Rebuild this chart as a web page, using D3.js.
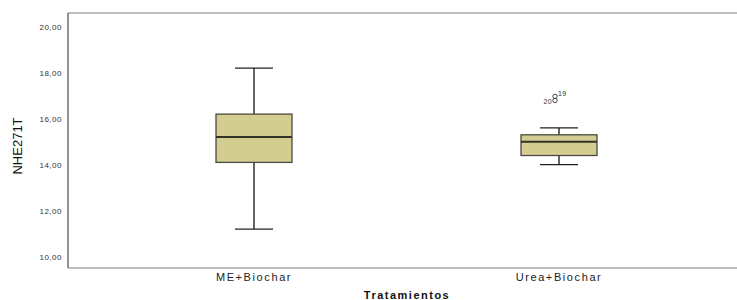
<!DOCTYPE html>
<html><head><meta charset="utf-8">
<script src="https://cdn.jsdelivr.net/npm/d3@7"></script>
<style>body{margin:0;background:#fff}svg{display:block}</style>
</head><body>
<script>
const categories = ["ME+Biochar", "Urea+Biochar"];
const whiskerLow = [11.2, 14.0];
const q1 = [14.1, 14.4];
const median = [15.2, 15.0];
const q3 = [16.2, 15.3];
const whiskerHigh = [18.2, 15.6];
const outlierCat = ["Urea+Biochar", "Urea+Biochar"];
const outlierVal = [16.97, 16.79];
const outlierLabel = ["19", "20"];
const yTicks = [10, 12, 14, 16, 18, 20];

(function () {
const W = 737, H = 300;
const svg = d3.select("body").append("svg").attr("width", W).attr("height", H);
const pL = 68, pT = 13, pB = 268, pR = 737;
const FONT = "Liberation Sans, Arial, sans-serif";

const y = d3.scaleLinear().domain([10, 20]).range([256.7, 26.7]);
const x = d3.scaleBand().domain(categories).range([101.5, 711.5]);

// frame
svg.append("line").attr("x1", pL).attr("x2", pR).attr("y1", pT).attr("y2", pT).attr("stroke", "#a8a8a8").attr("stroke-width", 1.5);
svg.append("line").attr("x1", pL).attr("x2", pR).attr("y1", pB).attr("y2", pB).attr("stroke", "#a8a8a8").attr("stroke-width", 1.5);
svg.append("line").attr("x1", pL).attr("x2", pL).attr("y1", pT).attr("y2", pB).attr("stroke", "#707070").attr("stroke-width", 1.5);

// y axis labels
const yAxis = d3.axisLeft(y).tickValues(yTicks).tickSize(0).tickPadding(6)
  .tickFormat(d => d3.format(".2f")(d).replace(".", ","));
const ga = svg.append("g").attr("transform", `translate(${pL},0)`).call(yAxis);
ga.select(".domain").remove();
ga.selectAll("text").attr("font-family", FONT).attr("font-size", 8).attr("letter-spacing", 0.5).attr("fill", "#333");

// x axis labels
const xAxis = d3.axisBottom(x).tickSize(0).tickPadding(5);
const gx = svg.append("g").attr("transform", `translate(0,${pB})`).call(xAxis);
gx.select(".domain").remove();
gx.selectAll("text").attr("font-family", FONT).attr("font-size", 11).attr("letter-spacing", 1.6).attr("fill", "#222");

// titles
svg.append("text").attr("x", 407).attr("y", 299).attr("text-anchor", "middle")
  .attr("font-family", FONT).attr("font-size", 11).attr("font-weight", "bold").attr("letter-spacing", 1.5).attr("fill", "#111")
  .text("Tratamientos");
svg.append("text").attr("transform", "translate(22,146) rotate(-90)").attr("text-anchor", "middle")
  .attr("font-family", FONT).attr("font-size", 13).attr("fill", "#111")
  .text("NHE271T");

// boxes
const boxW = 76, capW = 38;
categories.forEach((c, i) => {
  const cx = x(c) + x.bandwidth() / 2;
  const g = svg.append("g");
  g.append("line").attr("x1", cx).attr("x2", cx).attr("y1", y(whiskerHigh[i])).attr("y2", y(q3[i])).attr("stroke", "#111").attr("stroke-width", 1.3);
  g.append("line").attr("x1", cx).attr("x2", cx).attr("y1", y(q1[i])).attr("y2", y(whiskerLow[i])).attr("stroke", "#111").attr("stroke-width", 1.3);
  g.append("line").attr("x1", cx - capW / 2).attr("x2", cx + capW / 2).attr("y1", y(whiskerHigh[i])).attr("y2", y(whiskerHigh[i])).attr("stroke", "#222").attr("stroke-width", 1.3);
  g.append("line").attr("x1", cx - capW / 2).attr("x2", cx + capW / 2).attr("y1", y(whiskerLow[i])).attr("y2", y(whiskerLow[i])).attr("stroke", "#222").attr("stroke-width", 1.3);
  g.append("rect").attr("x", cx - boxW / 2).attr("width", boxW).attr("y", y(q3[i])).attr("height", y(q1[i]) - y(q3[i]))
    .attr("fill", "#d3cd92").attr("stroke", "#4a4a40").attr("stroke-width", 1.3);
  g.append("line").attr("x1", cx - boxW / 2).attr("x2", cx + boxW / 2).attr("y1", y(median[i])).attr("y2", y(median[i])).attr("stroke", "#333326").attr("stroke-width", 2);
});

// outliers
outlierVal.forEach((v, i) => {
  const cx = x(outlierCat[i]) + x.bandwidth() / 2 - 4;
  svg.append("circle").attr("cx", cx).attr("cy", y(v)).attr("r", 2.2).attr("fill", "none").attr("stroke", "#333").attr("stroke-width", 0.9);
  const up = i === 0;
  svg.append("text").attr("x", up ? cx + 3 : cx - 3).attr("y", up ? y(v) - 0.5 : y(v) + 3.5)
    .attr("text-anchor", up ? "start" : "end")
    .attr("font-family", FONT).attr("font-size", 7).attr("letter-spacing", 0.4).attr("fill", "#333")
    .text(outlierLabel[i]);
});
})();
</script>
</body></html>
